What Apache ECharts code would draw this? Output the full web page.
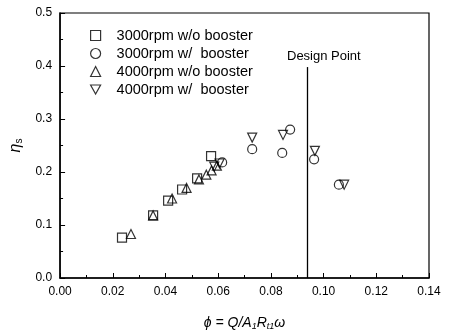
<!DOCTYPE html>
<html>
<head>
<meta charset="utf-8">
<script src="https://cdn.jsdelivr.net/npm/echarts@6/dist/echarts.min.js"></script>
<style>
  html, body { margin: 0; padding: 0; background: #fff; }
  #container { width: 450px; height: 336px; }
</style>
</head>
<body>
<div id="container"></div>
<script>
// values: [phi, eta_s]
const rpm3000NoBooster = [
  [0.0235, 0.076], [0.0353, 0.118], [0.0410, 0.146], [0.0463, 0.167],
  [0.0520, 0.188], [0.0573, 0.230]
];
const rpm3000Booster = [
  [0.0615, 0.218], [0.0729, 0.243], [0.0843, 0.236], [0.0873, 0.280],
  [0.0964, 0.224], [0.1058, 0.176]
];
const rpm4000NoBooster = [
  [0.0269, 0.083], [0.0353, 0.118], [0.0425, 0.150], [0.0480, 0.170],
  [0.0527, 0.186], [0.0555, 0.195], [0.0575, 0.203], [0.0595, 0.212]
];
const rpm4000Booster = [
  [0.0585, 0.210], [0.0605, 0.216], [0.0729, 0.265], [0.0846, 0.270],
  [0.0967, 0.240], [0.1078, 0.176]
];
const seriesNames = [
  "3000rpm w/o booster",
  "3000rpm w/  booster",
  "4000rpm w/o booster",
  "4000rpm w/  booster"
];
const designPoint = 0.0937;
const designLineTop = 0.398;

const font = "Liberation Sans, Arial, sans-serif";
const downTriangle = "path://M0,0 L10,0 L5,9 Z";
const markerStyle = {
  color: "rgba(0,0,0,0)",
  borderColor: "#000",
  borderWidth: 1.2
};

function scatter(name, data, symbol) {
  return {
    name: name,
    type: "scatter",
    data: data,
    symbol: symbol,
    symbolSize: 9,
    itemStyle: markerStyle,
    emphasis: { disabled: true }
  };
}

const series = [
  scatter(seriesNames[0], rpm3000NoBooster, "rect"),
  scatter(seriesNames[1], rpm3000Booster, "circle"),
  scatter(seriesNames[2], rpm4000NoBooster, "triangle"),
  scatter(seriesNames[3], rpm4000Booster, downTriangle)
];
series[0].markLine = {
  silent: true,
  symbol: "none",
  lineStyle: { color: "#000", width: 1.3, type: "solid" },
  label: { show: false },
  data: [[{ coord: [designPoint, 0] }, { coord: [designPoint, designLineTop] }]]
};

const option = {
  animation: false,
  backgroundColor: "#fff",
  grid: {
    left: 60, right: 21, top: 13, bottom: 53,
    show: true, borderColor: "#000", borderWidth: 1.2
  },
  legend: {
    orient: "vertical",
    left: 85, top: 23,
    itemWidth: 10, itemHeight: 10,
    itemGap: 3,
    data: seriesNames.map((n, i) => i === 3 ? { name: n, icon: downTriangle } : { name: n }),
    itemStyle: { color: "rgba(0,0,0,0)", borderColor: "#000", borderWidth: 1.2 },
    textStyle: { fontFamily: font, fontSize: 14.5, color: "#000", padding: [0, 0, 0, 11] }
  },
  xAxis: {
    type: "value",
    min: 0, max: 0.14, interval: 0.02,
    name: "{i|ϕ = Q/A}{s|1}{i|R}{s|t1}{i|ω}",
    nameLocation: "middle",
    nameGap: 38,
    nameTextStyle: {
      rich: {
        i: { fontFamily: font, fontSize: 14, fontStyle: "italic", color: "#000" },
        s: { fontFamily: font, fontSize: 9, fontStyle: "italic", color: "#000", verticalAlign: "bottom", padding: [6, 0, 0, 0] }
      }
    },
    axisLine: { lineStyle: { color: "#000", width: 1.5 } },
    axisTick: { inside: true, length: 5, lineStyle: { color: "#000" } },
    minorTick: { show: true, splitNumber: 2, length: 3, lineStyle: { color: "#000" } },
    axisLabel: {
      fontFamily: font, fontSize: 12, color: "#000", margin: 8,
      formatter: (v) => v.toFixed(2)
    },
    splitLine: { show: false }
  },
  yAxis: {
    type: "value",
    min: 0, max: 0.5, interval: 0.1,
    name: "{i|η}{s|s}",
    nameLocation: "middle",
    nameGap: 34,
    nameTextStyle: {
      rich: {
        i: { fontFamily: font, fontSize: 16, fontStyle: "italic", color: "#000" },
        s: { fontFamily: font, fontSize: 10, color: "#000", padding: [7, 0, 0, 0] }
      }
    },
    axisLine: { show: true, lineStyle: { color: "#000", width: 1.5 } },
    axisTick: { inside: true, length: 5, lineStyle: { color: "#000" } },
    minorTick: { show: true, splitNumber: 2, length: 3, lineStyle: { color: "#000" } },
    axisLabel: {
      fontFamily: font, fontSize: 12, color: "#000", margin: 8,
      formatter: (v) => v.toFixed(1)
    },
    splitLine: { show: false }
  },
  graphic: [{
    type: "text",
    left: 287, top: 50,
    style: { text: "Design Point", font: "13px " + font, fill: "#000" }
  }],
  series: series
};

const chart = echarts.init(document.getElementById("container"));
chart.setOption(option);
</script>
</body>
</html>
